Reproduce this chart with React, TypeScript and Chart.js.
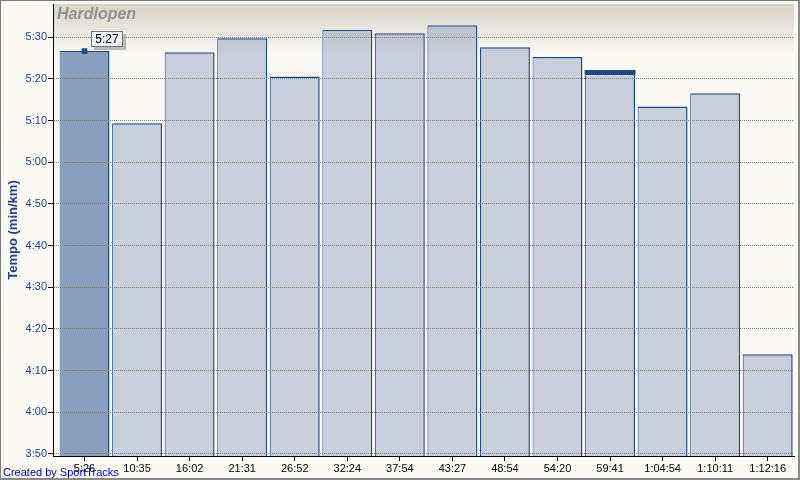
import { useEffect, useRef } from 'react';
import { Chart, registerables } from 'chart.js';

Chart.register(...registerables);

// ---- data ----
const xLabels = ['5:26', '10:35', '16:02', '21:31', '26:52', '32:24', '37:54', '43:27', '48:54', '54:20', '59:41', '1:04:54', '1:10:11', '1:12:16'];
const paceSeconds = [326.7, 309.4, 326.4, 329.8, 320.6, 331.8, 331.0, 332.9, 327.6, 325.3, 321.3, 313.4, 316.6, 253.9];
const yTickSeconds = [230, 240, 250, 260, 270, 280, 290, 300, 310, 320, 330];
const selectedIndex = 0;
const markerIndex = 10;
const markerRange = [321.1, 322.15];
const chartTitle = 'Hardlopen';
const yAxisTitle = 'Tempo (min/km)';
const creditText = 'Created by SportTracks';

const fmtPace = (s: number) => {
  const r = Math.round(s);
  const m = Math.floor(r / 60);
  const sec = r % 60;
  return `${m}:${sec < 10 ? '0' : ''}${sec}`;
};

const BLUE_TEXT = '#24418c';
const BAR_BORDER = '#1f4a8a';

const decorPlugin = {
  id: 'decor',
  beforeDraw(chart: any) {
    const { ctx, width, height } = chart;
    ctx.save();
    ctx.fillStyle = '#fbfaf5';
    ctx.fillRect(0, 0, width, height);
    ctx.restore();
  },
  afterDatasetsDraw(chart: any) {
    const { ctx, chartArea: a } = chart;
    ctx.save();
    const h = 52;
    const g = ctx.createLinearGradient(0, a.top, 0, a.top + h);
    g.addColorStop(0, 'rgba(140,130,115,0.33)');
    g.addColorStop(1, 'rgba(140,130,115,0)');
    ctx.fillStyle = g;
    ctx.fillRect(a.left + 1, a.top, a.right - a.left - 1, h);
    ctx.restore();
  },
  afterDraw(chart: any) {
    const { ctx, chartArea: a, width, height } = chart;
    ctx.save();
    // title
    ctx.font = 'italic bold 16px "Liberation Sans", Arial, sans-serif';
    ctx.fillStyle = '#929292';
    ctx.textAlign = 'left';
    ctx.textBaseline = 'alphabetic';
    ctx.fillText(chartTitle, a.left + 4, a.top + 15);

    // tooltip label for selected bar
    const meta = chart.getDatasetMeta(2);
    const pt = meta && meta.data && meta.data[0];
    if (pt) {
      const w = 32, h = 16;
      const x = Math.round(pt.x + 6);
      const y = Math.round(pt.y - 20.5);
      ctx.fillStyle = '#b9b9b9';
      ctx.fillRect(x + 3, y + 3, w, h);
      ctx.fillStyle = '#eef3f8';
      ctx.fillRect(x, y, w, h);
      ctx.strokeStyle = '#767676';
      ctx.lineWidth = 1;
      ctx.strokeRect(x + 0.5, y + 0.5, w - 1, h - 1);
      ctx.fillStyle = '#000';
      ctx.font = '12px "Liberation Sans", Arial, sans-serif';
      ctx.textAlign = 'center';
      ctx.textBaseline = 'middle';
      ctx.fillText(fmtPace(paceSeconds[selectedIndex]), x + w / 2, y + h / 2 + 0.5);
    }

    // credit
    ctx.font = '11px "Liberation Sans", Arial, sans-serif';
    ctx.fillStyle = '#0000e6';
    ctx.textAlign = 'left';
    ctx.textBaseline = 'alphabetic';
    ctx.fillText(creditText, 3, 476);

    // frame
    ctx.fillStyle = '#7a7a7a';
    ctx.fillRect(0, 0, width, 1);
    ctx.fillRect(0, 0, 1, height);
    ctx.fillStyle = '#8a8a8a';
    ctx.fillRect(0, height - 2, width, 2);
    ctx.fillRect(width - 2, 0, 2, height);
    ctx.restore();
  },
};

export default function App() {
  const canvasRef = useRef<HTMLCanvasElement | null>(null);

  useEffect(() => {
    document.body.style.margin = '0';
    const canvas = canvasRef.current;
    if (!canvas) return;

    const barData = paceSeconds.map((v, i) => ({ x: i, y: v }));
    const markerData = [{ x: markerIndex, y: markerRange }];
    const pointData = [{ x: selectedIndex, y: paceSeconds[selectedIndex] }];

    const fills = paceSeconds.map((_, i) => (i === selectedIndex ? '#8a9fbb' : '#c8cfdb'));
    const borders = paceSeconds.map((_, i) =>
      i === selectedIndex
        ? { top: 1.5, right: 2, bottom: 0, left: 0 }
        : { top: 1.5, right: 1.5, bottom: 0, left: 1 }
    );

    const chart = new Chart(canvas, {
      type: 'bar',
      data: {
        datasets: [
          {
            type: 'bar',
            data: barData as any,
            backgroundColor: fills,
            borderColor: BAR_BORDER,
            borderWidth: borders as any,
            borderSkipped: 'start',
            barPercentage: 0.95,
            categoryPercentage: 1,
            grouped: false,
            order: 2,
          } as any,
          {
            type: 'bar',
            data: markerData as any,
            backgroundColor: BAR_BORDER,
            borderColor: BAR_BORDER,
            borderWidth: 0,
            barPercentage: 0.97,
            categoryPercentage: 1,
            grouped: false,
            order: 1,
          } as any,
          {
            type: 'line',
            data: pointData as any,
            showLine: false,
            pointStyle: 'rect',
            pointRadius: 4,
            pointBorderWidth: 0,
            pointBackgroundColor: BAR_BORDER,
            order: 0,
          } as any,
        ],
      },
      options: {
        responsive: false,
        animation: false,
        layout: { padding: { left: 0, top: 4, right: 6, bottom: 0 } },
        plugins: {
          legend: { display: false },
          tooltip: { enabled: false },
          title: { display: false },
        },
        scales: {
          x: {
            type: 'linear',
            offset: false,
            min: -0.6,
            max: 13.5,
            afterBuildTicks: (scale: any) => {
              scale.ticks = xLabels.map((_, i) => ({ value: i }));
            },
            afterFit: (scale: any) => {
              scale.height = 24;
              scale.paddingLeft = 0;
              scale.paddingRight = 0;
            },
            ticks: {
              autoSkip: false,
              maxRotation: 0,
              padding: 1,
              color: '#000',
              font: { family: '"Liberation Sans", Arial, sans-serif', size: 11 },
              callback: (v: any) => xLabels[v as number] ?? '',
            },
            grid: {
              display: true,
              offset: false,
              drawOnChartArea: false,
              drawTicks: true,
              tickLength: 5,
              tickColor: '#000',
              color: '#000',
            },
            border: { display: true, color: '#000', width: 1, z: 2 },
          },
          y: {
            type: 'linear',
            min: 229.5,
            max: 338,
            afterBuildTicks: (scale: any) => {
              scale.ticks = yTickSeconds.map((v) => ({ value: v }));
            },
            afterFit: (scale: any) => {
              scale.width = 53;
              scale.paddingTop = 0;
              scale.paddingBottom = 0;
            },
            ticks: {
              padding: 1,
              color: BLUE_TEXT,
              font: { family: '"Liberation Sans", Arial, sans-serif', size: 11 },
              callback: (v: any) => fmtPace(v as number),
            },
            grid: {
              display: true,
              drawOnChartArea: true,
              drawTicks: true,
              tickLength: 5,
              tickColor: '#000',
              color: '#7c7c7c',
              z: 1,
              tickBorderDash: [],
            } as any,
            border: { display: true, color: '#000', width: 1, dash: [1, 1], z: 2 } as any,
            title: {
              display: true,
              text: yAxisTitle,
              color: BLUE_TEXT,
              font: { family: '"Liberation Sans", Arial, sans-serif', size: 13, weight: 'bold' },
              padding: { top: 6, bottom: 0 },
            },
          },
        },
      },
      plugins: [decorPlugin as any],
    });

    return () => chart.destroy();
  }, []);

  return (
    <div style={{ width: 800, height: 480 }}>
      <canvas ref={canvasRef} width={800} height={480} style={{ display: 'block' }} />
    </div>
  );
}
